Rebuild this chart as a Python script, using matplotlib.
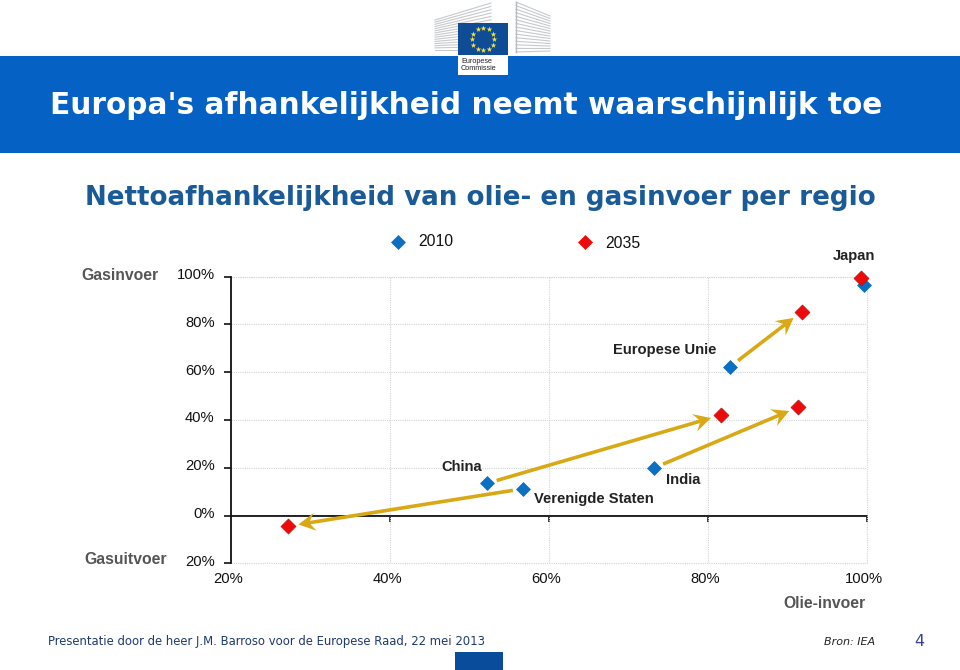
import numpy as np
import matplotlib
matplotlib.use("Agg")
import matplotlib.pyplot as plt
from matplotlib.patches import Rectangle, Polygon
from matplotlib.transforms import ScaledTranslation, IdentityTransform

regions = ["Japan", "Europese Unie", "China", "Verenigde Staten", "India"]
oil_2010 = [99.6, 82.8, 52.2, 56.7, 73.2]
gas_2010 = [96.5, 62.3, 13.5, 11.2, 19.9]
oil_2035 = [99.3, 91.8, 81.6, 27.2, 91.4]
gas_2035 = [99.3, 85.3, 42.0, -4.4, 45.4]
arrow_regions = ["Europese Unie", "China", "Verenigde Staten", "India"]
x_ticks = [20, 40, 60, 80, 100]
y_ticks = [-20, 0, 20, 40, 60, 80, 100]
x_labels = ["20%", "40%", "60%", "80%", "100%"]
y_labels = ["20%", "0%", "20%", "40%", "60%", "80%", "100%"]

W, H = 960, 670
fig = plt.figure(figsize=(9.6, 6.7), dpi=100, facecolor="white")

# page layer in pixel coordinates
bg = fig.add_axes([0, 0, 1, 1])
bg.set_xlim(0, W); bg.set_ylim(H, 0); bg.axis("off")
BLUE = "#0561C4"
bg.add_patch(Rectangle((0, 56), 960, 97, fc=BLUE, ec="none"))
bg.add_patch(Rectangle((455, 652), 48, 18, fc="#0A4C9C", ec="none"))

# logo
for i in range(15):
    t = i / 14
    bg.plot([435, 491], [20 + 30 * t, 3 + 47 * t], color="#C6C9CC", lw=0.8, zorder=1)
    bg.plot([516, 550], [2 + 50 * t, 16 + 35 * t], color="#C6C9CC", lw=0.8, zorder=1)
bg.plot([516, 516], [2, 52], color="#B8BCC0", lw=1.0, zorder=1)
bg.add_patch(Rectangle((458, 23), 50, 52, fc="white", ec="none", zorder=2))
bg.add_patch(Rectangle((458, 23), 50, 32, fc="#0E4C96", ec="none", zorder=3))
ang = np.linspace(0, 2 * np.pi, 12, endpoint=False)
bg.scatter(483 + 11 * np.sin(ang), 39 - 11 * np.cos(ang), marker="*", s=18,
           color="#F4E34A", linewidths=0, zorder=4)
bg.text(461, 61.5, "Europese", fontsize=5.2, family="Liberation Sans", color="#222222", va="center", zorder=4)
bg.text(461, 68.5, "Commissie", fontsize=5.2, family="Liberation Sans", color="#222222", va="center", zorder=4)

# headings
bg.text(50, 105, "Europa's afhankelijkheid neemt waarschijnlijk toe", fontsize=21.35, fontweight="bold",
        family="DejaVu Sans", color="white", va="center", ha="left")
bg.text(480, 198, "Nettoafhankelijkheid van olie- en gasinvoer per regio", fontsize=18.8, fontweight="bold",
        family="DejaVu Sans", color="#1A5A96", va="center", ha="center")
bg.text(48, 641, "Presentatie door de heer J.M. Barroso voor de Europese Raad, 22 mei 2013", fontsize=8.35,
        family="DejaVu Sans", color="#1F3A70", va="center")
bg.text(875, 642, "Bron: IEA", fontsize=8, style="italic", family="DejaVu Sans", color="#222222", va="center", ha="right")
bg.text(919, 642, "4", fontsize=11.5, family="DejaVu Sans", color="#3B3F98", va="center", ha="center")

GREY = "#555555"
AR = "Liberation Sans"
bg.text(120, 275, "Gasinvoer", fontsize=11.3, fontweight="bold", family=AR, color=GREY, va="center", ha="center")
bg.text(126, 560, "Gasuitvoer", fontsize=11.3, fontweight="bold", family=AR, color=GREY, va="center", ha="center")
bg.text(824, 603, "Olie-invoer", fontsize=11.3, fontweight="bold", family=AR, color=GREY, va="center", ha="center")

# chart
left, right, top, bottom = 231.3, 866.7, 276.7, 563.3
ax = fig.add_axes([left / W, 1 - bottom / H, (right - left) / W, (bottom - top) / H])
ax.patch.set_alpha(0)
ax.set_xlim(20, 100); ax.set_ylim(-20, 100)
ax.set_xticks(x_ticks); ax.set_xticklabels(x_labels, fontsize=10.6, family=AR, color="#111111")
ax.set_yticks(y_ticks); ax.set_yticklabels(y_labels, fontsize=10.6, family=AR, color="#111111")
ax.tick_params(axis="x", length=0, pad=6)
ax.tick_params(axis="y", length=5, width=1.2, color="#111111", pad=7)
DOT = dict(color="#D2D5D8", lw=0.8, ls=(0, (1, 1)))
ax.grid(True, **DOT)
ax.set_axisbelow(True)
for s in ("top", "right", "bottom"):
    ax.spines[s].set_visible(False)
ax.spines["left"].set_linewidth(1.3); ax.spines["left"].set_color("#111111")
ax.plot([1, 1], [0, 1], transform=ax.transAxes, clip_on=False, **DOT)
ax.plot([0, 1], [1, 1], transform=ax.transAxes, clip_on=False, **DOT)
ax.plot([0, 1], [0, 0], transform=ax.transAxes, clip_on=False, **DOT)

zero = ax.secondary_xaxis(20 / 120)
zero.set_xticks(x_ticks[1:]); zero.set_xticklabels([])
zero.tick_params(axis="x", direction="out", length=4.5, width=1.2, color="#111111")
zero.spines["bottom"].set_linewidth(1.3); zero.spines["bottom"].set_color("#222222")
ax.axhline(0, color="#222222", lw=1.3, zorder=2)

for lab in ax.get_xticklabels():
    lab.set_transform(lab.get_transform() + ScaledTranslation(-3 / 100, 0, fig.dpi_scale_trans))
for lab in ax.get_yticklabels():
    lab.set_transform(lab.get_transform() + ScaledTranslation(0, 3 / 100, fig.dpi_scale_trans))

ax.scatter(oil_2010, gas_2010, marker="D", s=58, color="#0B6FC2", linewidths=0, zorder=4, clip_on=False)
ax.scatter(oil_2035, gas_2035, marker="D", s=58, color="#EE0A0A", edgecolors="#B81010", linewidths=0.5, zorder=5, clip_on=False)

# arrows, computed from the data points
GOLD = "#D8A914"
def arrow(x0, y0, x1, y1, s0=10, s1=10, lw=3.6, hl=17, hw=9, notch=5):
    p0 = ax.transData.transform((x0, y0)); p1 = ax.transData.transform((x1, y1))
    d = (p1 - p0) / np.hypot(*(p1 - p0)); n = np.array([-d[1], d[0]])
    a = p0 + d * s0; b = p1 - d * s1
    pts = [a + n * lw / 2, b - d * (hl - notch) + n * lw / 2, b - d * hl + n * hw, b,
           b - d * hl - n * hw, b - d * (hl - notch) - n * lw / 2, a - n * lw / 2]
    ax.add_patch(Polygon(pts, closed=True, fc=GOLD, ec="none", transform=IdentityTransform(), zorder=3, clip_on=False))

for r in arrow_regions:
    i = regions.index(r)
    arrow(oil_2010[i], gas_2010[i], oil_2035[i], gas_2035[i])

# legend and region labels
leg = fig.add_axes([0, 0, 1, 1]); leg.set_xlim(0, W); leg.set_ylim(H, 0); leg.axis("off")
leg.scatter([398], [242], marker="D", s=58, color="#0B6FC2", linewidths=0)
leg.scatter([585], [242], marker="D", s=58, color="#EE0A0A", linewidths=0)
leg.text(418, 242, "2010", fontsize=11.3, family=AR, color="#111111", va="center")
leg.text(605, 243, "2035", fontsize=11.3, family=AR, color="#111111", va="center")
for name, x, y in [("Japan", 854, 256), ("Europese Unie", 665, 350), ("China", 462, 467),
                   ("India", 683, 480), ("Verenigde Staten", 594, 499)]:
    leg.text(x, y, name, fontsize=10.6, fontweight="bold", family=AR, color="#222222", va="center", ha="center")

fig.savefig("out.png", dpi=100)
